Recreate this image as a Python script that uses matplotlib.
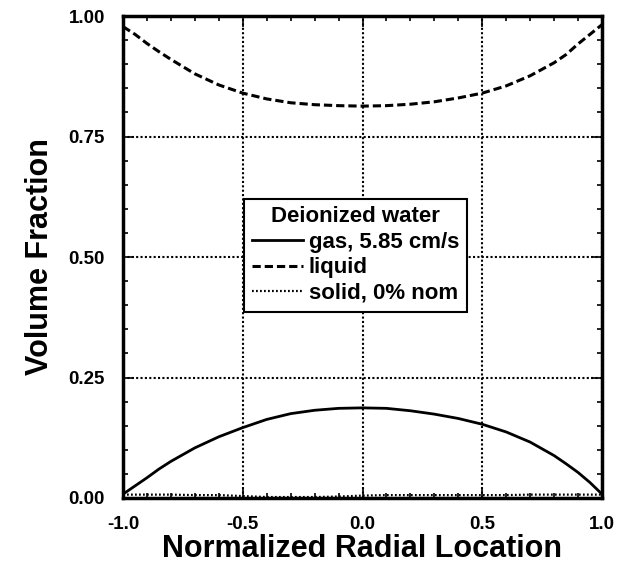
import matplotlib
matplotlib.use("Agg")
import matplotlib.pyplot as plt
from matplotlib.ticker import MultipleLocator, FixedLocator, FixedFormatter

plt.rcParams['font.family'] = ['Liberation Sans', 'DejaVu Sans']
plt.rcParams['font.weight'] = 'bold'

x_gas = [-1.0, -0.95, -0.9, -0.85, -0.8, -0.7, -0.6, -0.5, -0.4, -0.3, -0.2, -0.1, 0.0,
         0.1, 0.2, 0.3, 0.4, 0.5, 0.6, 0.7, 0.8, 0.85, 0.9, 0.95, 1.0]
gas = [0.008, 0.025, 0.042, 0.060, 0.076, 0.104, 0.127, 0.146, 0.163, 0.175, 0.182, 0.186, 0.187,
       0.186, 0.181, 0.174, 0.165, 0.153, 0.137, 0.116, 0.088, 0.071, 0.053, 0.032, 0.008]
liquid = [0.978, 0.962, 0.943, 0.926, 0.910, 0.880, 0.857, 0.840, 0.828, 0.820, 0.816, 0.814, 0.813,
          0.814, 0.817, 0.822, 0.830, 0.840, 0.855, 0.876, 0.903, 0.920, 0.942, 0.962, 0.982]
solid = [0.007, 0.007, 0.007, 0.007, 0.007, 0.006, 0.006, 0.004, 0.002, 0.002, 0.002, 0.003, 0.005,
         0.006, 0.006, 0.006, 0.006, 0.006, 0.006, 0.007, 0.007, 0.007, 0.007, 0.007, 0.007]

x_ticks = [-1.0, -0.5, 0.0, 0.5, 1.0]
x_ticklabels = ['-1.0', '-0.5', '0.0', '0.5', '1.0']
y_ticks = [0.0, 0.25, 0.5, 0.75, 1.0]
y_ticklabels = ['0.00', '0.25', '0.50', '0.75', '1.00']

legend_title = 'Deionized water'
labels = ['gas, 5.85 cm/s', 'liquid', 'solid, 0% nom']

fig = plt.figure(figsize=(6.25, 5.77), dpi=100)
ax = fig.add_axes([123/625, 1 - 498/577, (602-123)/625, (498-16)/577])

ax.plot(x_gas, gas, color='black', lw=2.0, ls='-', label=labels[0])
ax.plot(x_gas, liquid, color='black', lw=2.2, ls=(0, (2.7, 1.3)), label=labels[1])
ax.plot(x_gas, solid, color='black', lw=1.6, ls=(0, (0.8, 1.0)), label=labels[2])

ax.set_xlim(-1, 1)
ax.set_ylim(0, 1)
ax.xaxis.set_major_locator(FixedLocator(x_ticks))
ax.xaxis.set_major_formatter(FixedFormatter(x_ticklabels))
ax.yaxis.set_major_locator(FixedLocator(y_ticks))
ax.yaxis.set_major_formatter(FixedFormatter(y_ticklabels))
ax.xaxis.set_minor_locator(MultipleLocator(0.1))
ax.yaxis.set_minor_locator(MultipleLocator(0.05))
ax.tick_params(which='both', direction='in', top=True, right=True, width=1.2, labelsize=13.5)
ax.tick_params(which='major', length=8, pad=13)
ax.tick_params(which='minor', length=3.5)
for lab in ax.get_xticklabels() + ax.get_yticklabels():
    lab.set_fontweight('bold')

ax.grid(True, which='major', color='black', ls=(0, (1, 1.1)), lw=1.5)
for s in ax.spines.values():
    s.set_linewidth(2.5)

ax.set_xlabel('Normalized Radial Location', fontsize=22, fontweight='bold', labelpad=1)
ax.set_ylabel('Volume Fraction', fontsize=22, fontweight='bold', labelpad=10)

leg = ax.legend(title=legend_title, loc='center', bbox_to_anchor=(0.486, 0.504),
                fontsize=16, title_fontproperties={'weight': 'bold', 'size': 16},
                handlelength=2.3, handletextpad=0.25, fancybox=False, framealpha=1,
                edgecolor='black', borderpad=0.35, labelspacing=0.2)
leg.get_frame().set_linewidth(1.5)
for t in leg.get_texts():
    t.set_fontweight('bold')

fig.savefig('out.png', dpi=100)
